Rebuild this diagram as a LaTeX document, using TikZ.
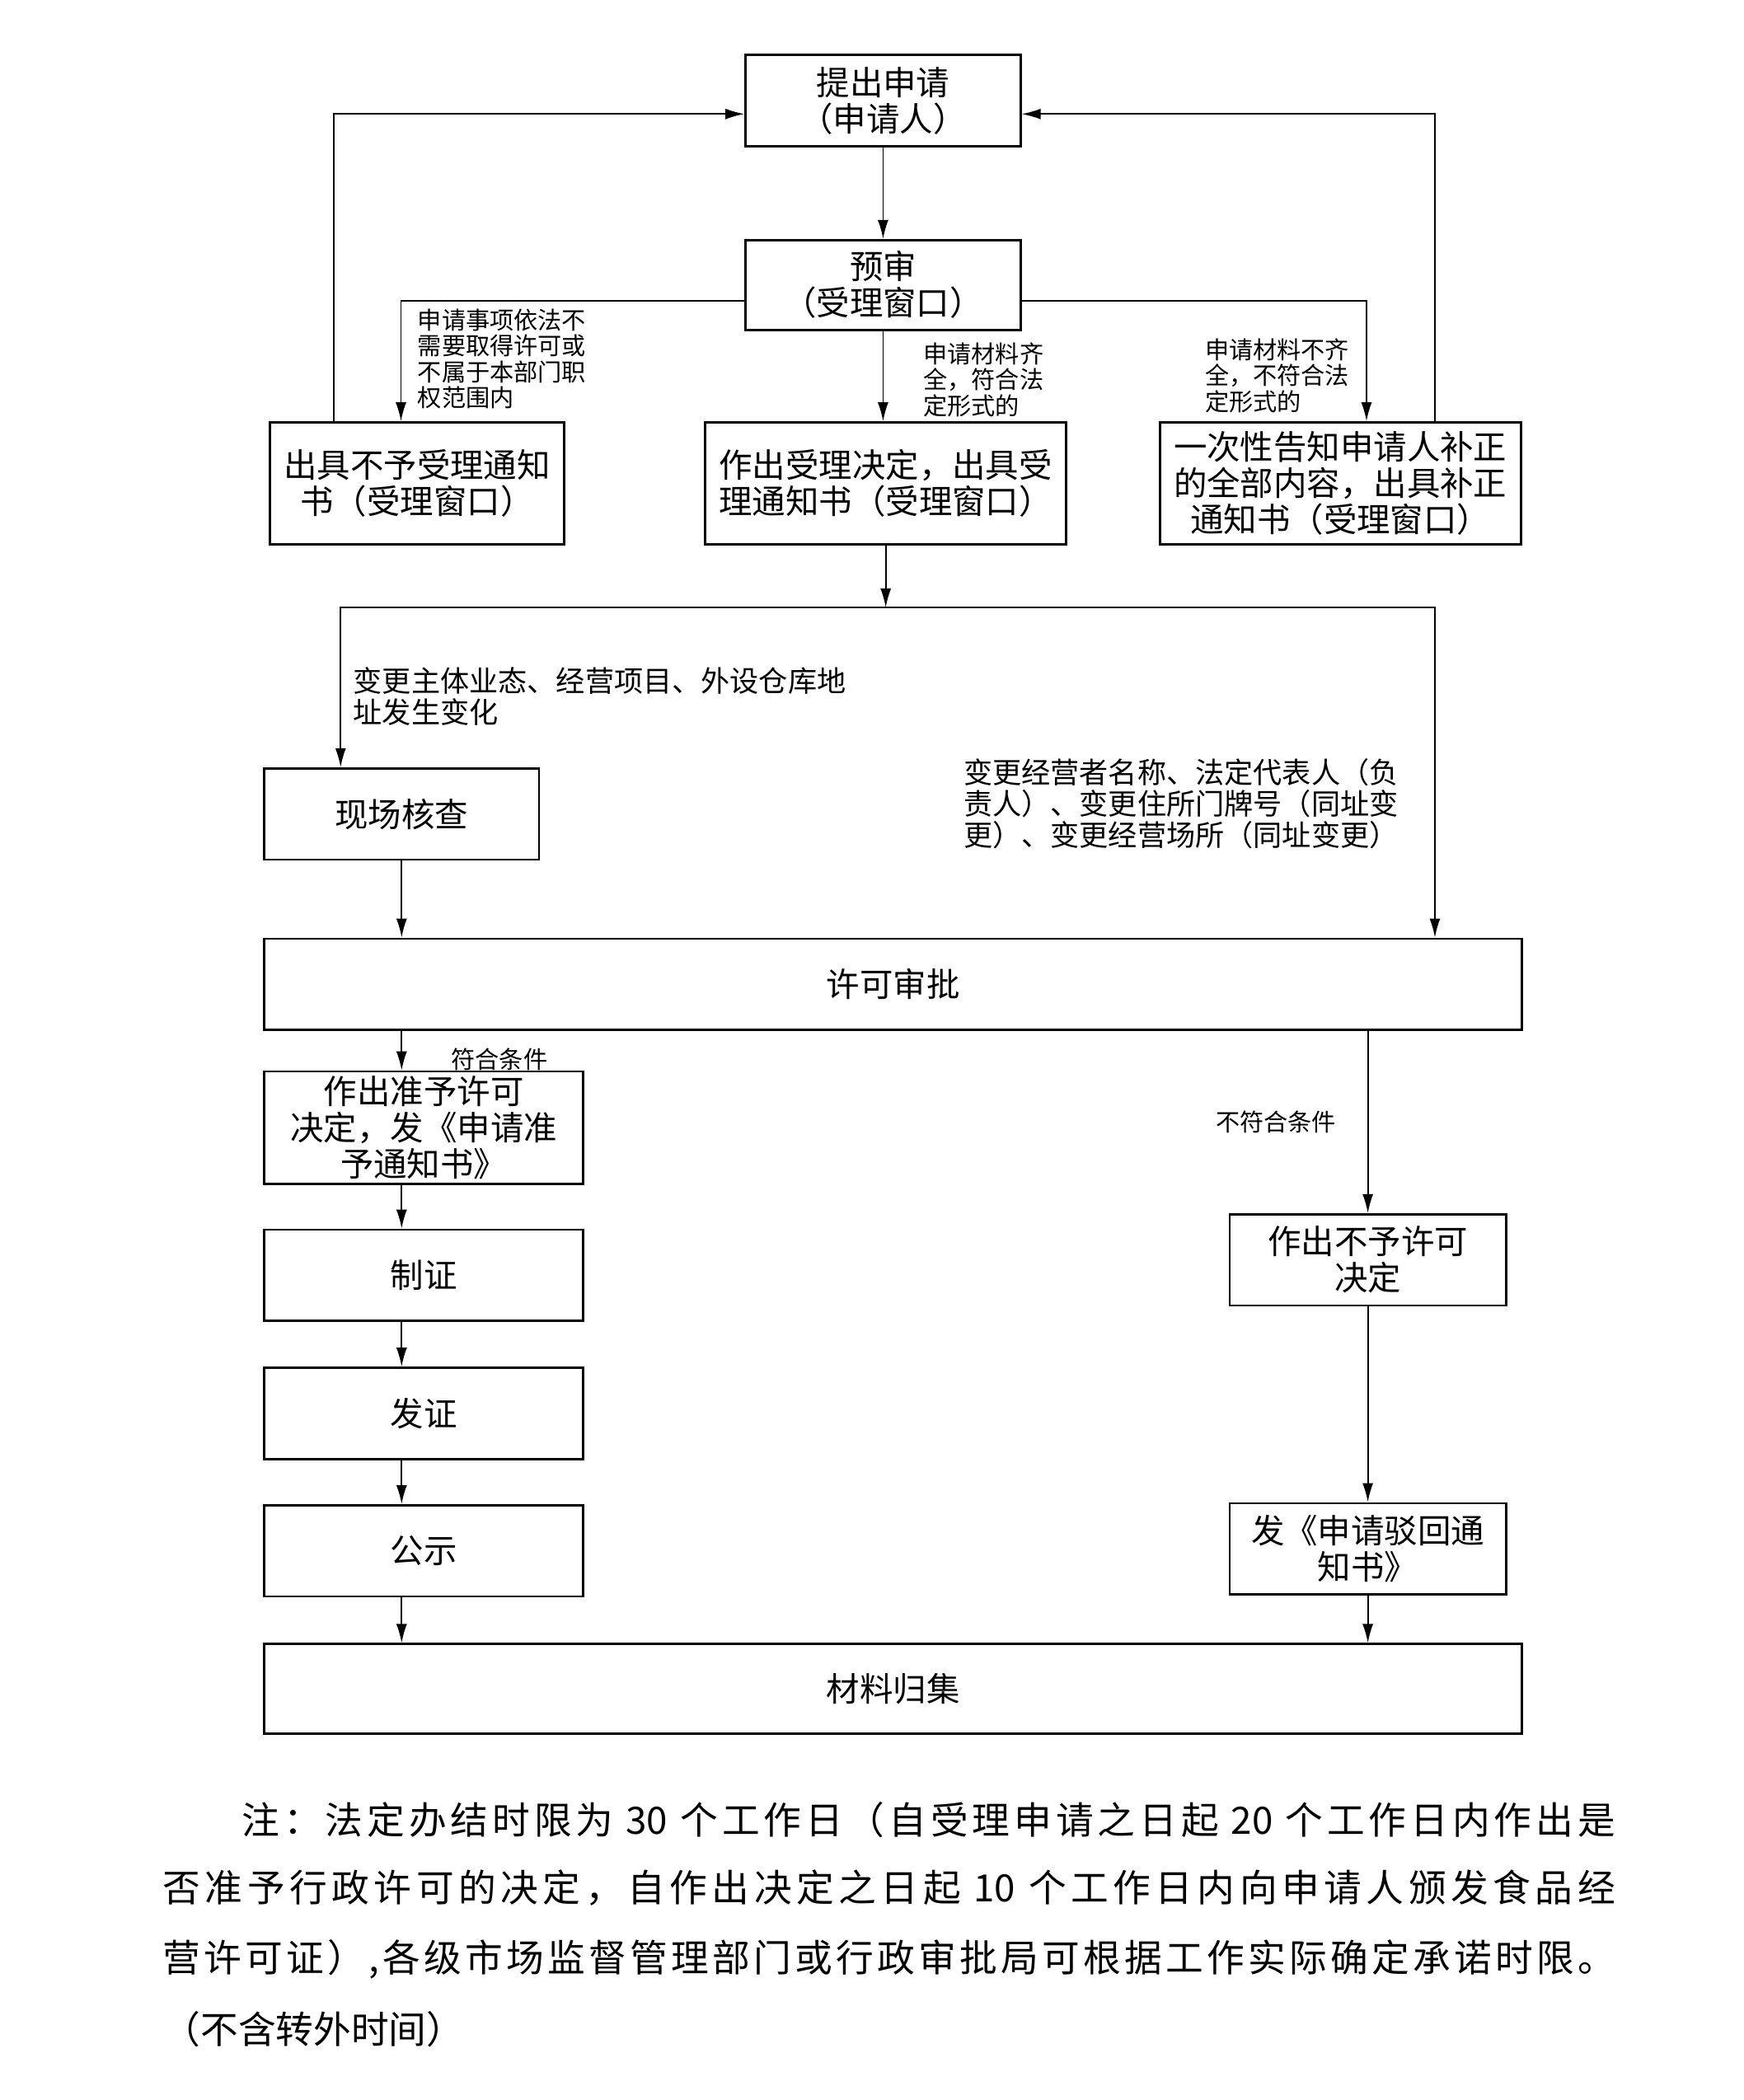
\documentclass[tikz,border=0pt]{standalone}
\usepackage{fontspec}
\setmainfont{Noto Sans CJK SC}
\usetikzlibrary{arrows.meta,calc}
\newlength\unitpx
\setlength\unitpx{0.01627cm}
\newcommand\notefont{\fontsize{13}{24}\selectfont}
\def\spreadline#1#2\endspread{#1\spreadloop#2\endspread}
\def\spreadloop#1{\ifx\endspread#1\else\hfil#1\expandafter\spreadloop\fi}
\tikzset{
    box/.style={draw, line width=0.8pt, align=center, inner sep=0pt, font=\fontsize{11.5}{12.5}\selectfont},
    cond/.style={anchor=north west, align=left, inner sep=0pt, font=\fontsize{8.3}{8.9}\selectfont},
    branch/.style={anchor=north west, align=left, inner sep=0pt, font=\fontsize{10}{10.8}\selectfont},
    noteline/.style={anchor=west, inner sep=0pt, font=\notefont}
}
\begin{document}
\begin{tikzpicture}[x=\unitpx, y=-\unitpx, line width=0.5pt, >={Latex[length=2.3mm,width=1.3mm]}]
    \useasboundingbox (0,0) rectangle (1300,1566);
    \node[box, minimum width=205\unitpx, minimum height=68\unitpx] (apply) at (658.5,75) {提出申请\\（申请人）};
    \node[box, minimum width=205\unitpx, minimum height=67\unitpx] (pre) at (658.5,212.5) {预审\\（受理窗口）};
    \node[box, minimum width=219\unitpx, minimum height=91\unitpx] (reject) at (311,360.5) {出具不予受理通知\\书（受理窗口）};
    \node[box, minimum width=269\unitpx, minimum height=91\unitpx] (accept) at (660.5,360.5) {作出受理决定，出具受\\理通知书（受理窗口）};
    \node[box, minimum width=269\unitpx, minimum height=91\unitpx] (supp) at (999.5,360.5) {一次性告知申请人补正\\的全部内容，出具补正\\通知书（受理窗口）};
    \node[box, minimum width=205\unitpx, minimum height=68\unitpx] (check) at (299.5,607) {现场核查};
    \node[box, minimum width=938\unitpx, minimum height=68\unitpx] (approve) at (666,734) {许可审批};
    \node[box, minimum width=238\unitpx, minimum height=84\unitpx] (grant) at (316,841) {作出准予许可\\决定，发《申请准\\予通知书》};
    \node[box, minimum width=238\unitpx, minimum height=68\unitpx] (make) at (316,951) {制证};
    \node[box, minimum width=238\unitpx, minimum height=68\unitpx] (issue) at (316,1054) {发证};
    \node[box, minimum width=238\unitpx, minimum height=68\unitpx] (publish) at (316,1156.5) {公示};
    \node[box, minimum width=206\unitpx, minimum height=68\unitpx] (deny) at (1020,939.5) {作出不予许可\\决定};
    \node[box, minimum width=206\unitpx, minimum height=68\unitpx] (notify) at (1020,1155) {发《申请驳回通\\知书》};
    \node[box, minimum width=938\unitpx, minimum height=67\unitpx] (archive) at (666,1259.5) {材料归集};
    \coordinate (split) at (660.5,453);
    \node[cond] (lbl0) at (311,230) {申请事项依法不\\需要取得许可或\\不属于本部门职\\权范围内};
    \node[cond] (lbl1) at (688,255) {申请材料齐\\全，符合法\\定形式的};
    \node[cond] (lbl2) at (898,252) {申请材料不齐\\全，不符合法\\定形式的};
    \node[branch] (lbl3) at (263,497) {变更主体业态、经营项目、外设仓库地\\址发生变化};
    \node[branch] (lbl4) at (718,565) {变更经营者名称、法定代表人（负\\责人）、变更住所门牌号（同址变\\更）、变更经营场所（同址变更）};
    \node[cond] (lbl5) at (336,781) {符合条件};
    \node[cond] (lbl6) at (906,828) {不符合条件};
    \draw[->] (apply) -- (pre);
    \draw[->] ($(reject.north)+(-62,0)$) |- ($(apply.west)+(0,10)$);
    \draw[->] ($(supp.north)+(70.5,0)$) |- ($(apply.east)+(0,10)$);
    \draw[->] ($(pre.west)+(0,12)$) -| ($(reject.north)+(-12,0)$);
    \draw[->] (pre.south) -- (pre.south |- accept.north);
    \draw[->] ($(pre.east)+(0,12)$) -| ($(supp.north)+(19.5,0)$);
    \draw[->] (accept.south) -- (split);
    \draw[->] (split) -| ($(check.north)+(-45.5,0)$);
    \draw[->] (split) -| ($(approve.north)+(404,0)$);
    \draw[->] (check.south) -- (check.south |- approve.north);
    \draw[->] (approve.south -| check.south) -- (grant.north -| check.south);
    \draw[->] (grant.south -| check.south) -- (make.north -| check.south);
    \draw[->] (make.south -| check.south) -- (issue.north -| check.south);
    \draw[->] (issue.south -| check.south) -- (publish.north -| check.south);
    \draw[->] (publish.south -| check.south) -- (archive.north -| check.south);
    \draw[->] (approve.south -| deny.north) -- (deny.north);
    \draw[->] (deny) -- (notify);
    \draw[->] (notify.south) -- (archive.north -| notify.south);
    \node[noteline] (note0) at (180,1357) {\makebox[1024\unitpx][s]{\spreadline 注：法定办结时限为{ 30 }个工作日（自受理申请之日起{ 20 }个工作日内作出是\endspread}};
    \node[noteline] (note1) at (121,1408) {\makebox[1083\unitpx][s]{\spreadline 否准予行政许可的决定，自作出决定之日起{ 10 }个工作日内向申请人颁发食品经\endspread}};
    \node[noteline] (note2) at (121,1461) {\makebox[1083\unitpx][s]{\spreadline 营许可证）,各级市场监督管理部门或行政审批局可根据工作实际确定承诺时限。\endspread}};
    \node[noteline] (note3) at (121,1513) {（不含转外时间）};
\end{tikzpicture}
\end{document}
